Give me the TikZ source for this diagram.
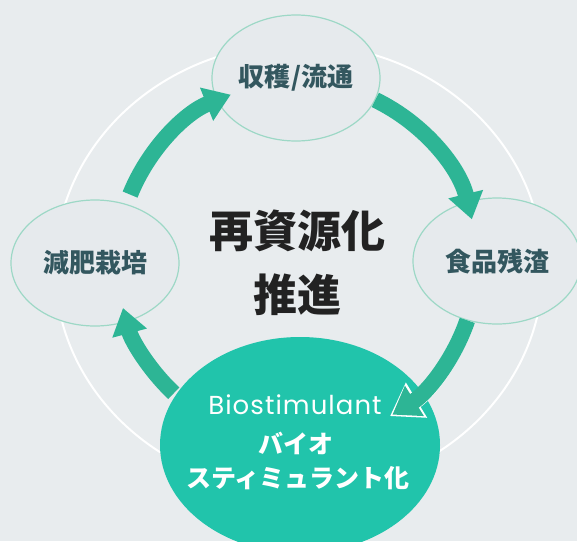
\documentclass[tikz,border=0pt]{standalone}
\usepackage{fontspec}
\usetikzlibrary{shapes.geometric,arrows.meta}
\newfontfamily\jp{Noto Sans CJK JP}
\newfontfamily\lat{Poppins}[LetterSpace=4]
\definecolor{bg}{HTML}{E8ECEE}
\definecolor{ellfill}{HTML}{E6EAED}
\definecolor{edge}{HTML}{9DD8C6}
\definecolor{lbl}{HTML}{33575F}
\definecolor{tealb}{HTML}{21C4AB}
\definecolor{arrowc}{HTML}{2DB595}
\definecolor{ctext}{HTML}{222222}
\begin{document}
\begin{tikzpicture}[x=1pt,y=-1pt,
  smallell/.style={ellipse, draw=edge, line width=1.2pt, fill=ellfill,
    minimum width=168pt, minimum height=126pt, inner sep=0pt,
    font=\jp\bfseries\fontsize{26}{30}\selectfont, text=lbl},
  flow/.style={draw=arrowc, line width=16pt, -{Triangle[width=34pt,length=26pt]}},
  flowwhite/.style={draw=white, line width=16pt, -{Triangle[width=39pt,length=31pt]}},
  whitetext/.style={text=white, inner sep=0pt}
]
\fill[bg] (0,0) rectangle (577,541);
\useasboundingbox (0,0) rectangle (577,541);
% outer white ring
\draw[white, line width=2pt] (299,268) ellipse [x radius=244, y radius=224];
% cycle nodes
\node[smallell] (T) at (296,78) {収穫/流通};
\node[smallell] (L) at (95,263) {減肥栽培};
\node[smallell] (R) at (497,261) {食品残渣};
\node[ellipse, fill=tealb, minimum width=280pt, minimum height=216pt, inner sep=0pt] (B) at (300,445) {};
% centre text
\node[font=\jp\bfseries\fontsize{44}{64}\selectfont, text=ctext, align=center] (C) at (297,263) {再資源化\\推進};
% arrows
\coordinate (O) at (297,262);
\draw[flow] ([shift={(-158:180)}]O) arc[start angle=-158, end angle=-111.6, radius=180];
\draw[flow] ([shift={(-64.2:180)}]O) arc[start angle=-64.2, end angle=-13.7, radius=180];
\draw[flowwhite] ([shift={(18.9:180)}]O) arc[start angle=18.9, end angle=58.9, radius=180];
\draw[flow] ([shift={(18.9:180)}]O) arc[start angle=18.9, end angle=58.0, radius=180];
\draw[flow] ([shift={(133.2:180)}]O) arc[start angle=133.2, end angle=165.2, radius=180];
% bottom texts
\node[whitetext, font=\lat\fontsize{26}{30}\selectfont] (bio) at (295,405) {Biostimulant};
\node[whitetext, font=\jp\bfseries\fontsize{25}{30}\selectfont] (bio2) at (296,443) {バイオ};
\node[whitetext, font=\jp\bfseries\fontsize{25}{30}\selectfont] (bio3) at (298,478) {スティミュラント化};
\end{tikzpicture}
\end{document}
